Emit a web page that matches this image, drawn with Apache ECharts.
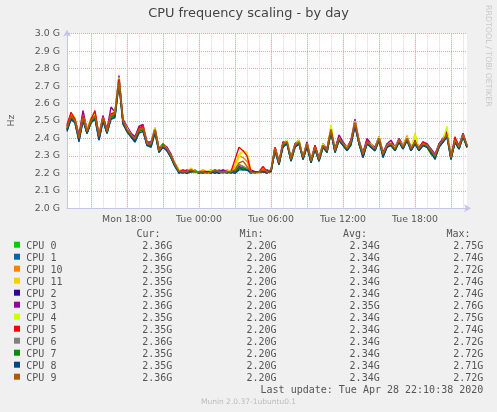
<!DOCTYPE html>
<html><head><meta charset="utf-8">
<script src="https://cdn.jsdelivr.net/npm/echarts@6/dist/echarts.min.js"></script>
<style>html,body{margin:0;padding:0;background:#f0f0f0;}#c{width:497px;height:412px;}</style>
</head><body><div id="c"></div>
<script>
// ---- data ----
const startMinutes = 13 * 60;   // Mon 13:00
const stepMinutes = 20;
const cpuNames = ['CPU 0','CPU 1','CPU 10','CPU 11','CPU 2','CPU 3','CPU 4','CPU 5','CPU 6','CPU 7','CPU 8','CPU 9'];
const cpuColors = ['#00cc00','#0066b3','#ff8000','#ffcc00','#330099','#990099','#ccff00','#ff0000','#808080','#008f00','#00487d','#b35a00'];
const xLabelTimes = ['Mon 18:00','Tue 00:00','Tue 06:00','Tue 12:00','Tue 18:00'];
const yTickMin = 2.0, yTickMax = 3.0, yTickStep = 0.1;

const cpu0 = [2.47,2.52,2.51,2.41,2.53,2.45,2.49,2.54,2.42,2.51,
 2.45,2.54,2.55,2.75,2.49,2.46,2.43,2.39,2.46,2.45,
 2.38,2.36,2.46,2.34,2.37,2.33,2.31,2.24,2.21,2.22,
 2.21,2.21,2.22,2.20,2.21,2.21,2.22,2.21,2.21,2.22,
 2.21,2.21,2.22,2.25,2.24,2.22,2.21,2.21,2.20,2.21,
 2.21,2.21,2.35,2.27,2.36,2.39,2.29,2.35,2.39,2.28,
 2.36,2.28,2.34,2.29,2.37,2.32,2.44,2.34,2.41,2.36,
 2.35,2.37,2.48,2.39,2.30,2.39,2.35,2.35,2.41,2.30,
 2.37,2.36,2.35,2.38,2.36,2.41,2.33,2.37,2.35,2.36,
 2.37,2.32,2.31,2.35,2.40,2.43,2.30,2.38,2.34,2.43,
 2.36];
const cpu1 = [2.45,2.51,2.49,2.39,2.51,2.43,2.49,2.52,2.39,2.50,
 2.43,2.52,2.53,2.74,2.49,2.44,2.41,2.38,2.44,2.45,
 2.36,2.35,2.44,2.32,2.35,2.33,2.29,2.24,2.21,2.20,
 2.21,2.21,2.21,2.21,2.20,2.21,2.21,2.21,2.22,2.21,
 2.20,2.21,2.21,2.23,2.22,2.22,2.20,2.21,2.21,2.21,
 2.21,2.21,2.33,2.25,2.36,2.37,2.27,2.35,2.37,2.28,
 2.36,2.26,2.34,2.27,2.35,2.32,2.44,2.32,2.39,2.36,
 2.33,2.37,2.48,2.37,2.30,2.37,2.35,2.33,2.39,2.30,
 2.35,2.36,2.33,2.38,2.34,2.39,2.33,2.37,2.33,2.36,
 2.35,2.32,2.29,2.35,2.38,2.41,2.28,2.38,2.34,2.41,
 2.36];
const cpu10 = [2.46,2.52,2.51,2.41,2.52,2.45,2.51,2.52,2.42,2.53,
 2.44,2.52,2.55,2.72,2.51,2.45,2.43,2.40,2.44,2.47,
 2.37,2.38,2.44,2.34,2.36,2.35,2.30,2.26,2.22,2.21,
 2.21,2.22,2.21,2.21,2.22,2.21,2.20,2.21,2.21,2.21,
 2.22,2.21,2.24,2.30,2.29,2.27,2.21,2.21,2.21,2.23,
 2.21,2.21,2.35,2.26,2.38,2.37,2.29,2.37,2.37,2.30,
 2.38,2.27,2.36,2.29,2.35,2.34,2.46,2.33,2.39,2.38,
 2.34,2.39,2.48,2.37,2.32,2.38,2.37,2.34,2.41,2.32,
 2.36,2.38,2.35,2.39,2.36,2.40,2.35,2.39,2.34,2.38,
 2.36,2.34,2.30,2.37,2.39,2.43,2.30,2.39,2.36,2.42,
 2.35];
const cpu11 = [2.47,2.54,2.52,2.40,2.56,2.44,2.52,2.53,2.41,2.52,
 2.45,2.54,2.55,2.74,2.51,2.46,2.42,2.41,2.46,2.46,
 2.38,2.37,2.45,2.34,2.37,2.34,2.31,2.25,2.21,2.22,
 2.21,2.23,2.21,2.21,2.21,2.20,2.21,2.22,2.21,2.21,
 2.21,2.22,2.25,2.31,2.33,2.32,2.21,2.21,2.20,2.22,
 2.21,2.22,2.35,2.27,2.37,2.39,2.28,2.37,2.38,2.30,
 2.37,2.28,2.35,2.29,2.37,2.33,2.47,2.33,2.41,2.37,
 2.35,2.38,2.50,2.38,2.31,2.39,2.36,2.35,2.41,2.32,
 2.36,2.38,2.34,2.40,2.36,2.42,2.34,2.43,2.34,2.37,
 2.37,2.33,2.30,2.36,2.40,2.46,2.29,2.40,2.35,2.43,
 2.35];
const cpu2 = [2.45,2.52,2.50,2.41,2.52,2.43,2.50,2.52,2.41,2.51,
 2.44,2.53,2.53,2.74,2.50,2.44,2.42,2.39,2.45,2.46,
 2.37,2.36,2.45,2.33,2.35,2.34,2.30,2.25,2.21,2.21,
 2.20,2.21,2.21,2.21,2.21,2.21,2.21,2.21,2.20,2.21,
 2.21,2.21,2.21,2.23,2.23,2.22,2.21,2.21,2.21,2.21,
 2.22,2.21,2.34,2.26,2.36,2.38,2.28,2.36,2.38,2.29,
 2.36,2.27,2.35,2.28,2.36,2.33,2.45,2.33,2.40,2.37,
 2.34,2.38,2.49,2.37,2.31,2.38,2.36,2.34,2.40,2.31,
 2.36,2.37,2.34,2.39,2.35,2.40,2.34,2.38,2.34,2.37,
 2.36,2.33,2.30,2.36,2.39,2.42,2.29,2.38,2.35,2.42,
 2.35];
const cpu3 = [2.48,2.54,2.51,2.42,2.56,2.45,2.51,2.55,2.42,2.53,
 2.45,2.58,2.55,2.76,2.51,2.47,2.43,2.41,2.47,2.48,
 2.38,2.38,2.46,2.34,2.37,2.35,2.31,2.25,2.21,2.21,
 2.22,2.21,2.21,2.20,2.21,2.21,2.21,2.21,2.21,2.22,
 2.21,2.21,2.21,2.24,2.23,2.22,2.22,2.21,2.21,2.21,
 2.20,2.22,2.35,2.27,2.38,2.38,2.29,2.37,2.39,2.29,
 2.38,2.28,2.36,2.29,2.37,2.34,2.46,2.34,2.42,2.38,
 2.35,2.39,2.51,2.39,2.32,2.40,2.37,2.35,2.41,2.32,
 2.37,2.39,2.35,2.40,2.36,2.41,2.35,2.39,2.35,2.38,
 2.37,2.34,2.31,2.37,2.40,2.44,2.30,2.40,2.36,2.43,
 2.36];
const cpu4 = [2.46,2.54,2.52,2.40,2.53,2.45,2.52,2.54,2.42,2.52,
 2.44,2.54,2.56,2.75,2.50,2.46,2.42,2.40,2.45,2.47,
 2.37,2.37,2.46,2.33,2.37,2.34,2.30,2.25,2.22,2.21,
 2.21,2.22,2.20,2.21,2.21,2.21,2.22,2.21,2.21,2.21,
 2.21,2.21,2.23,2.29,2.33,2.31,2.21,2.21,2.21,2.22,
 2.21,2.21,2.35,2.26,2.37,2.39,2.28,2.36,2.39,2.29,
 2.37,2.28,2.35,2.28,2.37,2.33,2.48,2.33,2.40,2.37,
 2.35,2.38,2.50,2.38,2.31,2.38,2.37,2.34,2.41,2.31,
 2.36,2.37,2.35,2.39,2.36,2.41,2.34,2.42,2.34,2.37,
 2.36,2.33,2.30,2.36,2.39,2.47,2.29,2.39,2.35,2.42,
 2.35];
const cpu5 = [2.47,2.55,2.51,2.41,2.53,2.44,2.51,2.56,2.41,2.52,
 2.45,2.54,2.55,2.74,2.50,2.45,2.42,2.40,2.46,2.47,
 2.37,2.37,2.45,2.34,2.36,2.34,2.30,2.25,2.21,2.22,
 2.21,2.22,2.21,2.21,2.21,2.21,2.20,2.22,2.21,2.21,
 2.21,2.21,2.28,2.35,2.33,2.30,2.21,2.21,2.21,2.24,
 2.21,2.21,2.35,2.26,2.37,2.38,2.28,2.36,2.38,2.29,
 2.37,2.27,2.36,2.28,2.36,2.34,2.45,2.33,2.40,2.37,
 2.34,2.39,2.49,2.38,2.31,2.39,2.36,2.34,2.40,2.31,
 2.36,2.37,2.34,2.39,2.35,2.40,2.34,2.38,2.34,2.38,
 2.36,2.33,2.30,2.36,2.39,2.42,2.29,2.41,2.35,2.42,
 2.35];
const cpu6 = [2.46,2.52,2.50,2.40,2.51,2.44,2.50,2.52,2.41,2.51,
 2.44,2.53,2.54,2.72,2.49,2.45,2.42,2.40,2.45,2.45,
 2.37,2.37,2.44,2.33,2.36,2.34,2.30,2.25,2.21,2.21,
 2.21,2.21,2.21,2.21,2.21,2.21,2.21,2.21,2.21,2.20,
 2.21,2.21,2.22,2.25,2.24,2.23,2.21,2.21,2.21,2.22,
 2.21,2.21,2.34,2.26,2.37,2.37,2.28,2.36,2.38,2.29,
 2.37,2.27,2.35,2.28,2.36,2.33,2.44,2.33,2.40,2.37,
 2.34,2.38,2.48,2.38,2.31,2.38,2.36,2.34,2.40,2.31,
 2.36,2.37,2.34,2.39,2.35,2.40,2.34,2.38,2.34,2.37,
 2.36,2.33,2.30,2.36,2.39,2.42,2.29,2.39,2.35,2.42,
 2.36];
const cpu7 = [2.45,2.52,2.49,2.39,2.51,2.43,2.49,2.52,2.40,2.51,
 2.43,2.52,2.53,2.72,2.49,2.44,2.41,2.39,2.44,2.45,
 2.36,2.36,2.44,2.32,2.37,2.33,2.29,2.24,2.21,2.21,
 2.21,2.21,2.21,2.21,2.20,2.21,2.21,2.21,2.21,2.21,
 2.21,2.20,2.21,2.23,2.23,2.22,2.21,2.21,2.21,2.21,
 2.21,2.21,2.33,2.25,2.36,2.37,2.27,2.35,2.37,2.28,
 2.36,2.26,2.34,2.27,2.35,2.32,2.44,2.32,2.39,2.36,
 2.33,2.37,2.48,2.37,2.29,2.37,2.35,2.33,2.39,2.30,
 2.35,2.36,2.33,2.38,2.34,2.39,2.33,2.37,2.33,2.36,
 2.35,2.31,2.29,2.35,2.38,2.41,2.28,2.38,2.34,2.41,
 2.35];
const cpu8 = [2.44,2.51,2.49,2.38,2.50,2.43,2.49,2.51,2.39,2.50,
 2.43,2.51,2.52,2.71,2.48,2.44,2.41,2.38,2.43,2.44,
 2.36,2.35,2.43,2.32,2.35,2.33,2.29,2.24,2.20,2.21,
 2.21,2.21,2.21,2.21,2.21,2.21,2.21,2.20,2.21,2.21,
 2.21,2.21,2.20,2.22,2.22,2.22,2.21,2.21,2.21,2.21,
 2.21,2.21,2.33,2.25,2.35,2.37,2.27,2.35,2.37,2.28,
 2.35,2.26,2.34,2.27,2.35,2.32,2.43,2.32,2.39,2.36,
 2.33,2.36,2.47,2.37,2.29,2.37,2.35,2.33,2.39,2.29,
 2.35,2.36,2.33,2.38,2.34,2.39,2.33,2.37,2.33,2.36,
 2.35,2.32,2.28,2.35,2.38,2.41,2.28,2.38,2.34,2.41,
 2.35];
const cpu9 = [2.46,2.53,2.50,2.40,2.52,2.44,2.50,2.53,2.41,2.52,
 2.44,2.53,2.54,2.72,2.50,2.45,2.42,2.40,2.45,2.46,
 2.37,2.37,2.45,2.33,2.36,2.34,2.30,2.25,2.21,2.21,
 2.21,2.22,2.21,2.21,2.21,2.20,2.21,2.22,2.21,2.21,
 2.21,2.21,2.22,2.26,2.27,2.24,2.21,2.20,2.21,2.22,
 2.21,2.22,2.34,2.26,2.37,2.38,2.28,2.36,2.38,2.29,
 2.37,2.27,2.35,2.28,2.36,2.33,2.45,2.33,2.40,2.37,
 2.34,2.38,2.49,2.38,2.31,2.38,2.36,2.34,2.40,2.31,
 2.36,2.37,2.34,2.39,2.35,2.40,2.34,2.38,2.34,2.37,
 2.36,2.33,2.30,2.36,2.39,2.42,2.29,2.39,2.35,2.42,
 2.36];
const cpuSeries = [cpu0,cpu1,cpu10,cpu11,cpu2,cpu3,cpu4,cpu5,cpu6,cpu7,cpu8,cpu9];

const legendCur = ['2.36G','2.36G','2.35G','2.35G','2.35G','2.36G','2.35G','2.35G','2.36G','2.35G','2.35G','2.36G'];
const legendMin = ['2.20G','2.20G','2.20G','2.20G','2.20G','2.20G','2.20G','2.20G','2.20G','2.20G','2.20G','2.20G'];
const legendAvg = ['2.34G','2.34G','2.34G','2.34G','2.34G','2.35G','2.34G','2.34G','2.34G','2.34G','2.34G','2.34G'];
const legendMax = ['2.75G','2.74G','2.72G','2.74G','2.74G','2.76G','2.75G','2.74G','2.72G','2.72G','2.71G','2.72G'];
const titleText = 'CPU frequency scaling - by day';
const lastUpdateText = 'Last update: Tue Apr 28 22:10:38 2020';
const footerText = 'Munin 2.0.37-1ubuntu0.1';
const sideText = 'RRDTOOL / TOBI OETIKER';

// ---- build ----
const pad = n => (n < 10 ? '0' : '') + n;
const times = cpu9.map((_, i) => {
  const m = startMinutes + i * stepMinutes;
  const day = m >= 1440 ? 'Tue' : 'Mon';
  const mm = m % 1440;
  return day + ' ' + pad(Math.floor(mm / 60)) + ':' + pad(mm % 60);
});

const SANS = '"DejaVu Sans", sans-serif';
const MONO = '"DejaVu Sans Mono", monospace';
const AXIS_COL = '#c4c4ec';

const graphics = [];
graphics.push({type:'text', left:'center', top:7, style:{text:titleText, font:'12.9px ' + SANS, fill:'#444'}});
graphics.push({type:'text', x:11.5, y:120.5, rotation:Math.PI/2, style:{text:'Hz', font:'9.4px ' + SANS, fill:'#555', textAlign:'center', textVerticalAlign:'middle', align:'center', verticalAlign:'middle'}});
graphics.push({type:'text', x:488.5, y:5, rotation:-Math.PI/2, style:{text:sideText, font:'7.9px ' + SANS, fill:'#c8c8c8', textAlign:'left', textVerticalAlign:'middle', align:'left', verticalAlign:'middle'}});

function txt(t, x, y, align, font, fill) {
  return {type:'text', x:x, y:y, style:{text:t, font:font, fill:fill, textAlign:align, textVerticalAlign:'middle', align:align, verticalAlign:'middle'}};
}
const F10 = '10px ' + MONO;
const dy = 1.6;
const headerY = 233.3 + dy, rowY0 = 244.7 + dy, rowStep = 12;
graphics.push(txt('Cur:', 160.5, headerY, 'right', F10, '#555'));
graphics.push(txt('Min:', 263.5, headerY, 'right', F10, '#555'));
graphics.push(txt('Avg:', 367, headerY, 'right', F10, '#555'));
graphics.push(txt('Max:', 470.5, headerY, 'right', F10, '#555'));
cpuNames.forEach((n, k) => {
  const y = rowY0 + k * rowStep;
  graphics.push({type:'rect', shape:{x:14, y:y - dy - 3, width:6, height:6}, style:{fill:cpuColors[k]}});
  graphics.push(txt(n, 26.3, y, 'left', F10, '#555'));
  graphics.push(txt(legendCur[k], 172.3, y, 'right', F10, '#555'));
  graphics.push(txt(legendMin[k], 276.5, y, 'right', F10, '#555'));
  graphics.push(txt(legendAvg[k], 379.7, y, 'right', F10, '#555'));
  graphics.push(txt(legendMax[k], 483.3, y, 'right', F10, '#555'));
});
graphics.push(txt(lastUpdateText, 483.3, 388.7 + dy, 'right', F10, '#555'));
graphics.push(txt(footerText, 248.5, 401.3 + 1, 'center', '7.5px ' + SANS, '#bbbbbb'));

const series = cpuSeries.map((d, k) => ({
  name: cpuNames[k], type:'line', data:d, xAxisIndex:0, yAxisIndex:0,
  showSymbol:false, symbol:'none', silent:true, animation:false,
  lineStyle:{width:1.4, color:cpuColors[k]}, itemStyle:{color:cpuColors[k]}, z: 3
}));

const chart = echarts.init(document.getElementById('c'), null, {renderer:'canvas'});
chart.setOption({
  backgroundColor:'#f0f0f0',
  animation:false,
  grid:{left:67, right:30, top:33.7, bottom:203.7, show:true, backgroundColor:'#ffffff', borderWidth:0},
  xAxis:[{
    type:'category', data:times, boundaryGap:false,
    axisLine:{show:true, lineStyle:{color:AXIS_COL, width:1}, symbol:['none','arrow'], symbolSize:[6,7], symbolOffset:[0,4]},
    axisTick:{show:false},
    axisLabel:{show:true, interval:(i, v) => xLabelTimes.indexOf(v) >= 0, margin:6.5, fontSize:9.4, fontFamily:'DejaVu Sans', color:'#555'},
    splitLine:{show:true, interval:(i) => i % 3 === 0, lineStyle:{color:'#d4d4d4', type:[1,1], width:1}}
  },{
    type:'category', data:times, boundaryGap:false, position:'bottom',
    axisLine:{show:false}, axisTick:{show:false}, axisLabel:{show:false},
    splitLine:{show:true, interval:(i) => i % 9 === 6, lineStyle:{color:'#e9a4a4', type:[1,1], width:1}}
  }],
  yAxis:{
    type:'value', min:yTickMin, max:yTickMax, interval:yTickStep,
    axisLine:{show:true, lineStyle:{color:AXIS_COL, width:1}, symbol:['none','arrow'], symbolSize:[6,7], symbolOffset:[0,4]},
    axisTick:{show:false},
    axisLabel:{formatter:v => v.toFixed(1) + ' G', fontSize:9.4, fontFamily:'DejaVu Sans', color:'#555', margin:7},
    splitLine:{show:true, lineStyle:{color:'#e9a4a4', type:[1,1], width:1}}
  },
  series: series,
  graphic: graphics
});
</script></body></html>
